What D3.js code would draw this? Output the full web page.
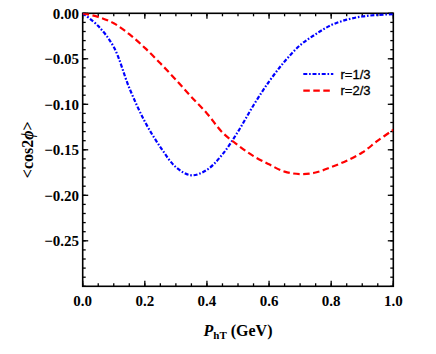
<!DOCTYPE html>
<html>
<head>
<meta charset="utf-8">
<script src="https://cdn.jsdelivr.net/npm/d3@7"></script>
<style>
  body { margin: 0; background: #fff; }
  svg { display: block; }
</style>
</head>
<body>
<svg width="436" height="354"></svg>
<script>
// values, every 0.05 GeV
var pht = [0, 0.05, 0.10, 0.15, 0.20, 0.25, 0.30, 0.35, 0.40, 0.45, 0.50,
           0.55, 0.60, 0.65, 0.70, 0.75, 0.80, 0.85, 0.90, 0.95, 1.00];
var r13 = [0, -0.014, -0.037, -0.082, -0.119, -0.147, -0.169, -0.178, -0.172, -0.155, -0.130,
           -0.101, -0.075, -0.053, -0.035, -0.023, -0.013, -0.007, -0.0035, -0.0018, -0.001];
var r23 = [0, -0.004, -0.011, -0.023, -0.038, -0.055, -0.073, -0.092, -0.110, -0.131, -0.145,
           -0.157, -0.166, -0.174, -0.1767, -0.175, -0.169, -0.162, -0.153, -0.140, -0.128];
var xTicks = [0, 0.2, 0.4, 0.6, 0.8, 1.0];
var yTicks = [0, -0.05, -0.10, -0.15, -0.20, -0.25];
var seriesNames = ["r=1/3", "r=2/3"];

var svg = d3.select("svg");
var mLeft = 82.7, mRight = 393.3, mTop = 13.3, mBottom = 286.3;

var x = d3.scaleLinear().domain([0, 1]).range([mLeft, mRight]);
var y = d3.scaleLinear().domain([-0.30, 0]).range([mBottom, mTop]);

var serif = "'Liberation Serif', 'Times New Roman', serif";
var sans = "'Liberation Sans', Arial, sans-serif";

// minor ticks
var xMinor = d3.range(0, 1.0001, 0.05);
var yMinor = d3.range(-0.30, 0.0001, 0.01);

var g = svg.append("g");

function tickLines(vals, horiz, len, pos, dir) {
  vals.forEach(function(v) {
    if (horiz) {
      g.append("line").attr("x1", x(v)).attr("x2", x(v))
        .attr("y1", pos).attr("y2", pos + dir * len)
        .attr("stroke", "#000").attr("stroke-width", 1.3);
    } else {
      g.append("line").attr("y1", y(v)).attr("y2", y(v))
        .attr("x1", pos).attr("x2", pos + dir * len)
        .attr("stroke", "#000").attr("stroke-width", 1.3);
    }
  });
}
tickLines(xMinor, true, 3, mBottom, -1);
tickLines(xMinor, true, 3, mTop, 1);
tickLines(xTicks, true, 5.5, mBottom, -1);
tickLines(xTicks, true, 5.5, mTop, 1);
tickLines(yMinor, false, 3, mLeft, 1);
tickLines(yMinor, false, 3, mRight, -1);
tickLines(yTicks, false, 5.5, mLeft, 1);
tickLines(yTicks, false, 5.5, mRight, -1);

// frame
g.append("rect").attr("x", mLeft).attr("y", mTop)
  .attr("width", mRight - mLeft).attr("height", mBottom - mTop)
  .attr("fill", "none").attr("stroke", "#000").attr("stroke-width", 1.6);

// tick labels
g.selectAll(".xl").data(xTicks).enter().append("text")
  .attr("x", function(d) { return x(d); })
  .attr("y", 306)
  .attr("text-anchor", "middle")
  .attr("font-family", serif).attr("font-weight", "bold").attr("font-size", 15)
  .text(d3.format(".1f"));

g.selectAll(".yl").data(yTicks).enter().append("text")
  .attr("x", 79)
  .attr("y", function(d) { return y(d); })
  .attr("dy", "0.35em")
  .attr("text-anchor", "end")
  .attr("font-family", serif).attr("font-weight", "bold").attr("font-size", 15)
  .text(function(d) { return d3.format(".2f")(d).replace("-", "\u2212"); });

// axis titles
var xt = svg.append("text")
  .attr("x", (mLeft + mRight) / 2).attr("y", 336)
  .attr("text-anchor", "middle")
  .attr("font-family", serif).attr("font-weight", "bold").attr("font-size", 16);
xt.append("tspan").attr("font-style", "italic").text("P");
xt.append("tspan").attr("font-size", 11).attr("dy", 3).text("hT");
xt.append("tspan").attr("dy", -3).text(" (GeV)");

var yt = svg.append("text")
  .attr("transform", "translate(33," + (mTop + mBottom) / 2 + ") rotate(-90)")
  .attr("text-anchor", "middle")
  .attr("font-family", serif).attr("font-weight", "bold").attr("font-size", 16);
yt.append("tspan").text("<cos2");
yt.append("tspan").attr("font-style", "italic").text("\u03d5");
yt.append("tspan").text(">");

// curves
var line = d3.line()
  .x(function(d) { return x(d[0]); })
  .y(function(d) { return y(d[1]); })
  .curve(d3.curveCatmullRom);

var styles = [
  { data: r13, color: "#0000ff", dash: "4,1.8,1.6,1.8" },
  { data: r23, color: "#ff0000", dash: "6.5,3.5" }
];

svg.append("clipPath").attr("id", "clip").append("rect")
  .attr("x", mLeft).attr("y", mTop).attr("width", mRight - mLeft).attr("height", mBottom - mTop);

styles.forEach(function(s) {
  svg.append("path")
    .datum(pht.map(function(p, i) { return [p, s.data[i]]; }))
    .attr("d", line)
    .attr("fill", "none")
    .attr("stroke", s.color)
    .attr("stroke-width", 2.2)
    .attr("stroke-dasharray", s.dash)
    .attr("clip-path", "url(#clip)");
});

// legend
styles.forEach(function(s, i) {
  var ly = 74 + i * 16.7;
  svg.append("line")
    .attr("x1", 303.3).attr("x2", 333.3).attr("y1", ly).attr("y2", ly)
    .attr("stroke", s.color).attr("stroke-width", 2.2)
    .attr("stroke-dasharray", s.dash);
  svg.append("text")
    .attr("x", 340.5).attr("y", ly + 4.5)
    .attr("font-family", sans).attr("font-size", 13)
    .attr("stroke", "#000").attr("stroke-width", 0.3)
    .text(seriesNames[i]);
});
</script>
</body>
</html>
